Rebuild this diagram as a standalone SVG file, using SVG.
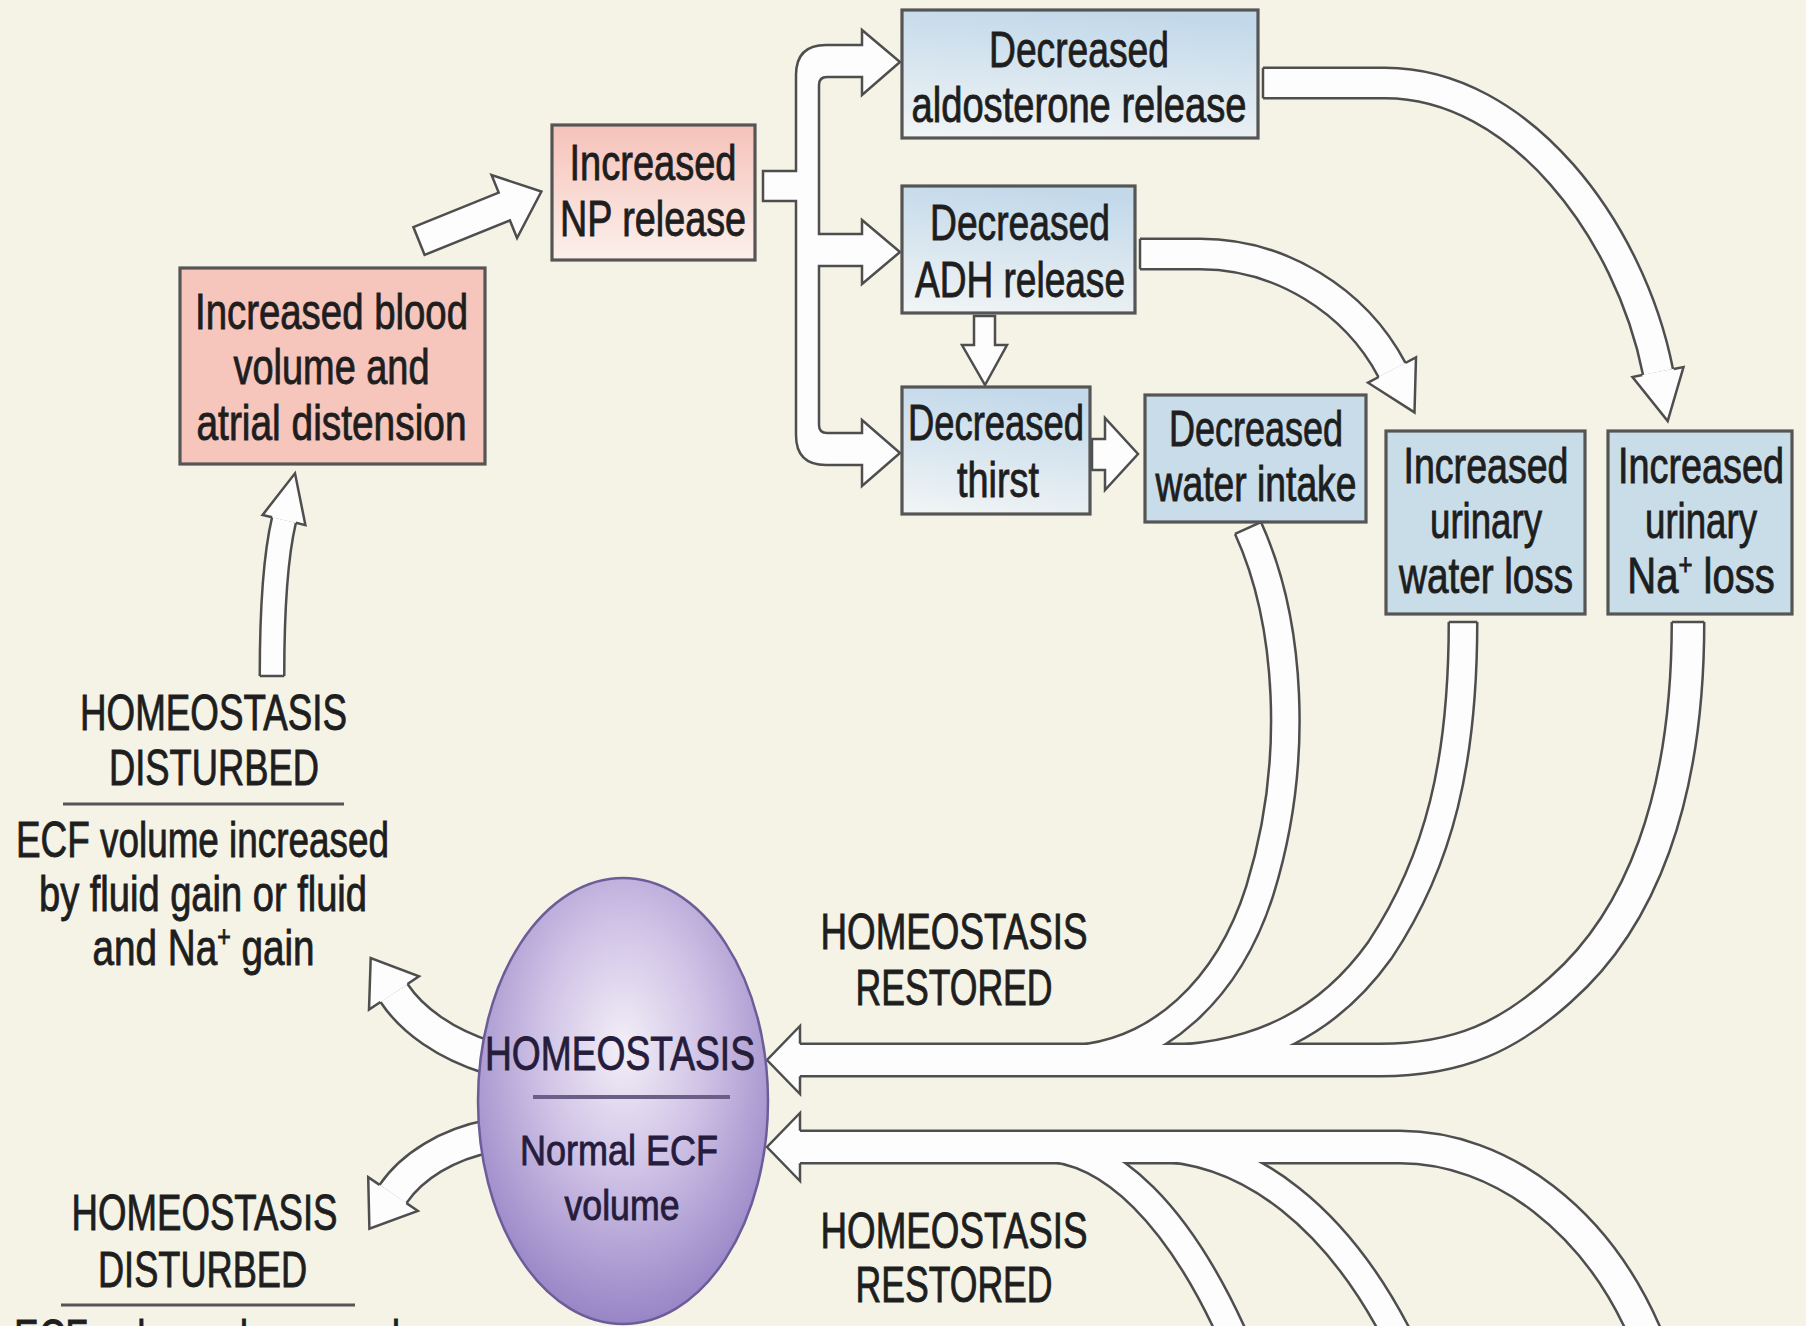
<svg xmlns="http://www.w3.org/2000/svg" width="1806" height="1326" viewBox="0 0 1806 1326">
<defs>
  <linearGradient id="gNP" x1="0" y1="0" x2="0" y2="1">
    <stop offset="0" stop-color="#f5c2b9"/><stop offset="1" stop-color="#fcf0ec"/>
  </linearGradient>
  <linearGradient id="gBlue" x1="0.4" y1="0" x2="0.2" y2="1">
    <stop offset="0" stop-color="#c3d9ea"/><stop offset="1" stop-color="#f0f4f5"/>
  </linearGradient>
  <radialGradient id="gCircle" cx="0.5" cy="0.38" r="0.62">
    <stop offset="0" stop-color="#f3eff7"/><stop offset="0.45" stop-color="#d0c3e6"/><stop offset="1" stop-color="#9785c6"/>
  </radialGradient>
</defs>
<style>
  .box{stroke:#555;stroke-width:3.2}
  .t{font-family:"Liberation Sans",Arial,sans-serif;font-size:50px;fill:#1e1e1e;stroke:#1e1e1e;stroke-width:0.9;text-anchor:middle}
  .ct{font-family:"Liberation Sans",Arial,sans-serif;fill:#261c3c;stroke:#261c3c;stroke-width:0.9;text-anchor:middle}
  .od{fill:none;stroke:#4e4e4e;stroke-linecap:butt;stroke-linejoin:round}
  .ow{fill:none;stroke:#fdfdfd;stroke-linecap:butt;stroke-linejoin:round}
  .ah{fill:#fdfdfd;stroke:#4e4e4e;stroke-width:2.5;stroke-linejoin:miter}
  .cap{fill:none;stroke:#4e4e4e;stroke-width:2.5}
  .rule{stroke:#555;stroke-width:3}
</style>
<rect width="1806" height="1326" fill="#f5f3e6"/>

<g id="connectors">
  <g class="od">
    <path d="M1263 83 L1385 83 C1520 83 1630 230 1658 372" stroke-width="33"/>
    <path d="M1140 254 L1200 254 C1280 254 1355 300 1392 370" stroke-width="33"/>
    <path d="M272 676 C272 620 275 558 284 520" stroke-width="27"/>
    <path d="M490 1058 C445 1044 412 1020 394 993" stroke-width="35"/>
    <path d="M490 1136 C448 1144 412 1166 393 1194" stroke-width="35"/>
    <path d="M1688 622 C1688 800 1640 920 1560 990 C1510 1035 1460 1060 1380 1060 L800 1060" stroke-width="35"/>
    <path d="M1248 528 C1290 620 1300 760 1260 890 C1230 985 1160 1060 1060 1060" stroke-width="31"/>
    <path d="M1463 622 C1463 760 1440 860 1380 950 C1330 1020 1260 1060 1150 1060" stroke-width="31"/>
    <path d="M800 1147 L1400 1147 C1500 1147 1600 1220 1650 1345" stroke-width="35"/>
    <path d="M1040 1147 C1110 1147 1180 1215 1237 1345" stroke-width="31"/>
    <path d="M1150 1147 C1250 1147 1340 1220 1402 1345" stroke-width="31"/>
  </g>
  <g class="ow">
    <path d="M1263 83 L1385 83 C1520 83 1630 230 1658 372" stroke-width="28"/>
    <path d="M1140 254 L1200 254 C1280 254 1355 300 1392 370" stroke-width="28"/>
    <path d="M272 676 C272 620 275 558 284 520" stroke-width="22"/>
    <path d="M490 1058 C445 1044 412 1020 394 993" stroke-width="30"/>
    <path d="M490 1136 C448 1144 412 1166 393 1194" stroke-width="30"/>
    <path d="M1688 622 C1688 800 1640 920 1560 990 C1510 1035 1460 1060 1380 1060 L800 1060" stroke-width="30"/>
    <path d="M1248 528 C1290 620 1300 760 1260 890 C1230 985 1160 1060 1060 1060" stroke-width="26"/>
    <path d="M1463 622 C1463 760 1440 860 1380 950 C1330 1020 1260 1060 1150 1060" stroke-width="26"/>
    <path d="M800 1147 L1400 1147 C1500 1147 1600 1220 1650 1345" stroke-width="30"/>
    <path d="M1040 1147 C1110 1147 1180 1215 1237 1345" stroke-width="26"/>
    <path d="M1150 1147 C1250 1147 1340 1220 1402 1345" stroke-width="26"/>
  </g>
  <g class="cap">
    <line x1="1263" y1="67.75" x2="1263" y2="98.25"/>
    <line x1="1140" y1="238.75" x2="1140" y2="269.25"/>
    <line x1="259.75" y1="676" x2="284.25" y2="676"/>
    <line x1="1261" y1="522.1" x2="1235" y2="533.9"/>
    <line x1="1448.75" y1="622" x2="1477.25" y2="622"/>
    <line x1="1671.75" y1="622" x2="1704.25" y2="622"/>
  </g>
  <g class="ah">
    <path d="M1642.3 375.1 L1632.5 377 L1667.7 421 L1683.5 367 L1673.7 368.9"/>
    <path d="M1378.7 377 L1368 382.7 L1414.5 412.4 L1416 357.3 L1405.3 363"/>
    <path d="M295.9 522.8 L305.4 525.1 L295 473.3 L262.6 514.9 L272.1 517.2"/>
    <path d="M407.5 984 L419 976.4 L370.7 958 L369 1009.6 L380.5 1002"/>
    <path d="M406.4 1203.1 L417.8 1210.8 L369.4 1228.7 L368.2 1177.2 L379.6 1184.9"/>
    <path d="M800 1043.75 L800 1026 L767 1060 L800 1094 L800 1076.25"/>
    <path d="M800 1130.75 L800 1113 L767 1147 L800 1181 L800 1163.25"/>
    <path d="M763 171 L796 171 L796 75 Q796 45 826 45 L862 45 L862 30 L900 62 L862 95 L862 77 L827 77 Q819 77 819 85 L819 234 L862 234 L862 220 L900 252 L862 284 L862 266 L819 266 L819 425 Q819 433 827 433 L862 433 L862 420 L900 453 L862 486 L862 465 L826 465 Q796 465 796 435 L796 201 L763 201 Z"/>
    <polygon transform="translate(419 241) rotate(-22)" points="0,-15 92,-15 92,-34 132,0 92,34 92,15 0,15"/>
    <polygon points="974,316 995,316 995,345 1007,345 985,385 962,345 974,345"/>
    <polygon points="1092,439 1105,439 1105,418 1138,454 1105,490 1105,470 1092,470"/>
  </g>
</g>

<g id="node-blood">
  <rect class="box" x="180" y="268" width="305" height="196" fill="#f6c5bc"/>
  <text class="t" x="331.5" y="329" textLength="273" lengthAdjust="spacingAndGlyphs">Increased blood</text>
  <text class="t" x="331.5" y="384" textLength="196" lengthAdjust="spacingAndGlyphs">volume and</text>
  <text class="t" x="331.5" y="440" textLength="270" lengthAdjust="spacingAndGlyphs">atrial distension</text>
</g>
<g id="node-np">
  <rect class="box" x="552" y="125" width="203" height="135" fill="url(#gNP)"/>
  <text class="t" x="653" y="180" textLength="167" lengthAdjust="spacingAndGlyphs">Increased</text>
  <text class="t" x="653" y="236" textLength="186" lengthAdjust="spacingAndGlyphs">NP release</text>
</g>
<g id="node-aldosterone">
  <rect class="box" x="902" y="10" width="356" height="128" fill="url(#gBlue)"/>
  <text class="t" x="1079" y="67" textLength="180" lengthAdjust="spacingAndGlyphs">Decreased</text>
  <text class="t" x="1079" y="122" textLength="335" lengthAdjust="spacingAndGlyphs">aldosterone release</text>
</g>
<g id="node-adh">
  <rect class="box" x="902" y="186" width="233" height="127" fill="url(#gBlue)"/>
  <text class="t" x="1020" y="240" textLength="180" lengthAdjust="spacingAndGlyphs">Decreased</text>
  <text class="t" x="1020" y="297" textLength="210" lengthAdjust="spacingAndGlyphs">ADH release</text>
</g>
<g id="node-thirst">
  <rect class="box" x="902" y="387" width="188" height="127" fill="url(#gBlue)"/>
  <text class="t" x="996" y="440" textLength="176" lengthAdjust="spacingAndGlyphs">Decreased</text>
  <text class="t" x="998" y="497" textLength="82" lengthAdjust="spacingAndGlyphs">thirst</text>
</g>
<g id="node-water-intake">
  <rect class="box" x="1145" y="395" width="221" height="127" fill="#c8dce9"/>
  <text class="t" x="1256" y="446" textLength="174" lengthAdjust="spacingAndGlyphs">Decreased</text>
  <text class="t" x="1256" y="501" textLength="201" lengthAdjust="spacingAndGlyphs">water intake</text>
</g>
<g id="node-urinary-water">
  <rect class="box" x="1386" y="431" width="199" height="183" fill="#c9dde9"/>
  <text class="t" x="1486" y="483" textLength="165" lengthAdjust="spacingAndGlyphs">Increased</text>
  <text class="t" x="1486" y="538" textLength="112" lengthAdjust="spacingAndGlyphs">urinary</text>
  <text class="t" x="1486" y="593" textLength="174" lengthAdjust="spacingAndGlyphs">water loss</text>
</g>
<g id="node-urinary-na">
  <rect class="box" x="1608" y="431" width="184" height="183" fill="#c9dde9"/>
  <text class="t" x="1701" y="483" textLength="166" lengthAdjust="spacingAndGlyphs">Increased</text>
  <text class="t" x="1701" y="538" textLength="112" lengthAdjust="spacingAndGlyphs">urinary</text>
  <text class="t" transform="translate(1701 593) scale(0.8 1)" x="0" y="0">Na<tspan font-size="30" dy="-18">+</tspan><tspan dy="18"> loss</tspan></text>
</g>

<g id="node-homeostasis">
  <ellipse cx="623" cy="1101" rx="145" ry="223" fill="url(#gCircle)" stroke="#6c5c98" stroke-width="2.5"/>
  <text class="ct" x="620" y="1070" font-size="49" textLength="270" lengthAdjust="spacingAndGlyphs">HOMEOSTASIS</text>
  <line x1="533" y1="1097" x2="730" y2="1097" stroke="#6a5f86" stroke-width="4"/>
  <text class="ct" x="619" y="1165" font-size="43" textLength="198" lengthAdjust="spacingAndGlyphs">Normal ECF</text>
  <text class="ct" x="622" y="1220" font-size="43" textLength="115" lengthAdjust="spacingAndGlyphs">volume</text>
</g>

<g id="label-disturbed-up">
  <text class="t" x="213.5" y="730" textLength="267" lengthAdjust="spacingAndGlyphs">HOMEOSTASIS</text>
  <text class="t" x="214" y="785" textLength="210" lengthAdjust="spacingAndGlyphs">DISTURBED</text>
  <line class="rule" x1="63" y1="804" x2="344" y2="804"/>
  <text class="t" x="202.5" y="857" textLength="373" lengthAdjust="spacingAndGlyphs">ECF volume increased</text>
  <text class="t" x="203" y="911" textLength="328" lengthAdjust="spacingAndGlyphs">by fluid gain or fluid</text>
  <text class="t" transform="translate(203.5 965) scale(0.774 1)" x="0" y="0">and Na<tspan font-size="30" dy="-18">+</tspan><tspan dy="18"> gain</tspan></text>
</g>
<g id="label-disturbed-down">
  <text class="t" x="204.5" y="1230" textLength="266" lengthAdjust="spacingAndGlyphs">HOMEOSTASIS</text>
  <text class="t" x="202.5" y="1287" textLength="209" lengthAdjust="spacingAndGlyphs">DISTURBED</text>
  <line class="rule" x1="61" y1="1305" x2="355" y2="1305"/>
  <text class="t" x="207" y="1355" textLength="386" lengthAdjust="spacingAndGlyphs">ECF volume decreased</text>
</g>
<g id="label-restored-up">
  <text class="t" x="954" y="949" textLength="267" lengthAdjust="spacingAndGlyphs">HOMEOSTASIS</text>
  <text class="t" x="954" y="1005" textLength="197" lengthAdjust="spacingAndGlyphs">RESTORED</text>
</g>
<g id="label-restored-down">
  <text class="t" x="954" y="1248" textLength="267" lengthAdjust="spacingAndGlyphs">HOMEOSTASIS</text>
  <text class="t" x="954" y="1302" textLength="197" lengthAdjust="spacingAndGlyphs">RESTORED</text>
</g>
</svg>
